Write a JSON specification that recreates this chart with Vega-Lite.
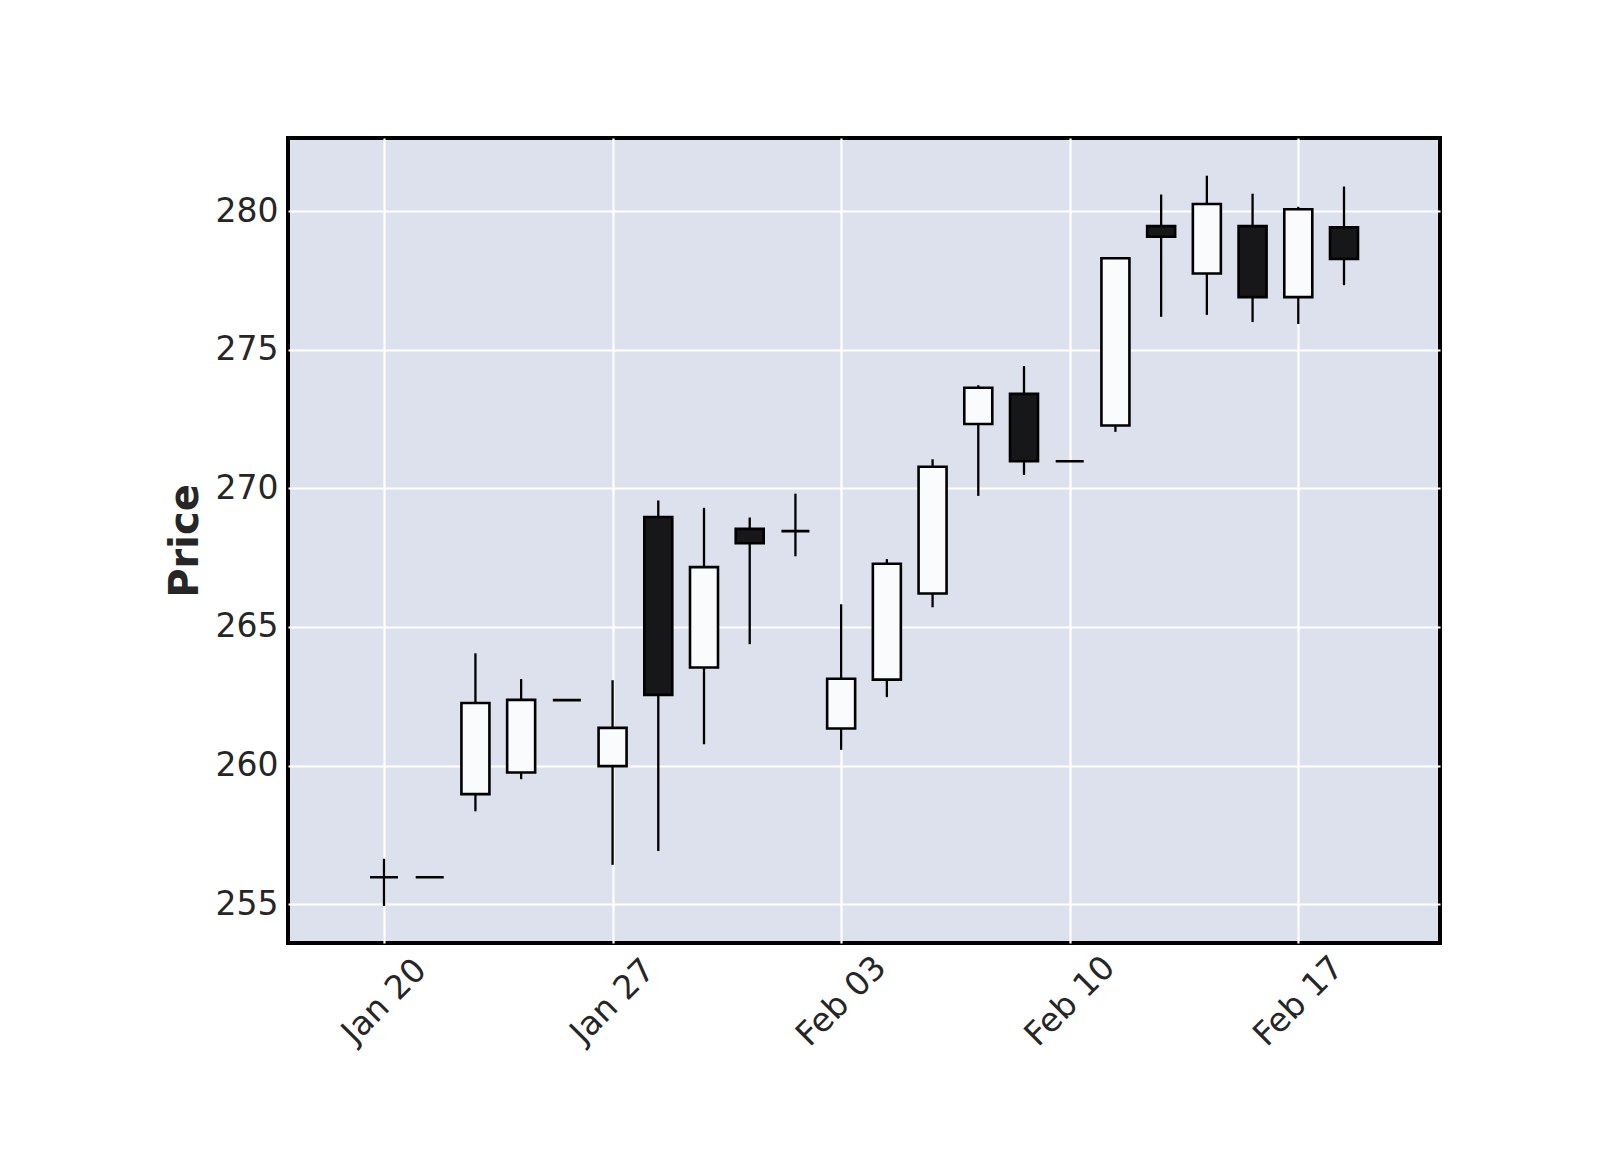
{
  "$schema": "https://vega.github.io/schema/vega-lite/v6.json",
  "autosize": {"type": "none"},
  "padding": {"left": 288, "top": 138, "right": 160, "bottom": 207},
  "width": 1152,
  "height": 805,
  "background": "#ffffff",
  "config": {
    "view": {"fill": "#dce1ed", "stroke": "#000000", "strokeWidth": 4},
    "font": "DejaVu Sans",
    "axis": {
      "grid": true, "gridColor": "#ffffff", "gridWidth": 2.2, "gridOpacity": 1,
      "ticks": false, "domain": false,
      "labelFont": "DejaVu Sans", "labelFontSize": 33, "labelColor": "#262626",
      "titleFont": "DejaVu Sans", "titleFontSize": 40, "titleFontWeight": "bold", "titleColor": "#262626"
    }
  },
  "data": {"values": [
    {"date": "Jan 20", "open": 255.97, "high": 256.64, "low": 254.94, "close": 255.97},
    {"date": "Jan 21", "open": 255.97, "high": 255.97, "low": 255.97, "close": 255.97},
    {"date": "Jan 22", "open": 258.97, "high": 264.05, "low": 258.35, "close": 262.26},
    {"date": "Jan 23", "open": 259.75, "high": 263.12, "low": 259.51, "close": 262.37},
    {"date": "Jan 24", "open": 262.36, "high": 262.36, "low": 262.36, "close": 262.36},
    {"date": "Jan 27", "open": 259.98, "high": 263.08, "low": 256.42, "close": 261.36},
    {"date": "Jan 28", "open": 268.97, "high": 269.56, "low": 256.92, "close": 262.55},
    {"date": "Jan 29", "open": 263.54, "high": 269.30, "low": 260.77, "close": 267.16},
    {"date": "Jan 30", "open": 268.54, "high": 268.95, "low": 264.38, "close": 268.02},
    {"date": "Jan 31", "open": 268.46, "high": 269.81, "low": 267.55, "close": 268.46},
    {"date": "Feb 03", "open": 261.34, "high": 265.82, "low": 260.57, "close": 263.13},
    {"date": "Feb 04", "open": 263.10, "high": 267.45, "low": 262.47, "close": 267.28},
    {"date": "Feb 05", "open": 266.21, "high": 271.05, "low": 265.71, "close": 270.78},
    {"date": "Feb 06", "open": 272.32, "high": 273.72, "low": 269.73, "close": 273.63},
    {"date": "Feb 07", "open": 273.41, "high": 274.41, "low": 270.48, "close": 270.98},
    {"date": "Feb 10", "open": 270.98, "high": 270.98, "low": 270.98, "close": 270.98},
    {"date": "Feb 11", "open": 272.27, "high": 278.30, "low": 272.04, "close": 278.30},
    {"date": "Feb 12", "open": 279.46, "high": 280.60, "low": 276.19, "close": 279.08},
    {"date": "Feb 13", "open": 277.75, "high": 281.28, "low": 276.26, "close": 280.26},
    {"date": "Feb 14", "open": 279.46, "high": 280.63, "low": 276.00, "close": 276.90},
    {"date": "Feb 17", "open": 276.90, "high": 280.16, "low": 275.93, "close": 280.07},
    {"date": "Feb 18", "open": 279.42, "high": 280.89, "low": 277.33, "close": 278.28}
  ]},
  "transform": [
    {"window": [{"op": "row_number", "as": "session"}]}
  ],
  "encoding": {
    "x": {
      "field": "session", "type": "quantitative",
      "scale": {"domain": [-1.1, 24.1], "nice": false, "zero": false, "padding": 0},
      "axis": {
        "title": null,
        "values": [1, 6, 11, 16, 21],
        "labelExpr": "['Jan 20', 'Jan 27', 'Feb 03', 'Feb 10', 'Feb 17'][(datum.value - 1) / 5]",
        "labelAngle": -45, "labelAlign": "center", "labelBaseline": "middle",
        "labelPadding": 58
      }
    }
  },
  "layer": [
    {
      "mark": {"type": "rule", "color": "#000000", "strokeWidth": 2.3},
      "encoding": {
        "y": {
          "field": "low", "type": "quantitative",
          "scale": {"domain": [253.6, 282.64], "nice": false, "zero": false},
          "axis": {"title": "Price", "values": [255, 260, 265, 270, 275, 280], "labelPadding": 10, "titlePadding": 10}
        },
        "y2": {"field": "high"}
      }
    },
    {
      "mark": {"type": "bar", "size": 28, "stroke": "#000000", "strokeWidth": 2.6},
      "encoding": {
        "y": {"field": "open", "type": "quantitative"},
        "y2": {"field": "close"},
        "fill": {
          "condition": {"test": "datum.close < datum.open", "value": "#17171a"},
          "value": "#fafbfd"
        }
      }
    }
  ]
}
